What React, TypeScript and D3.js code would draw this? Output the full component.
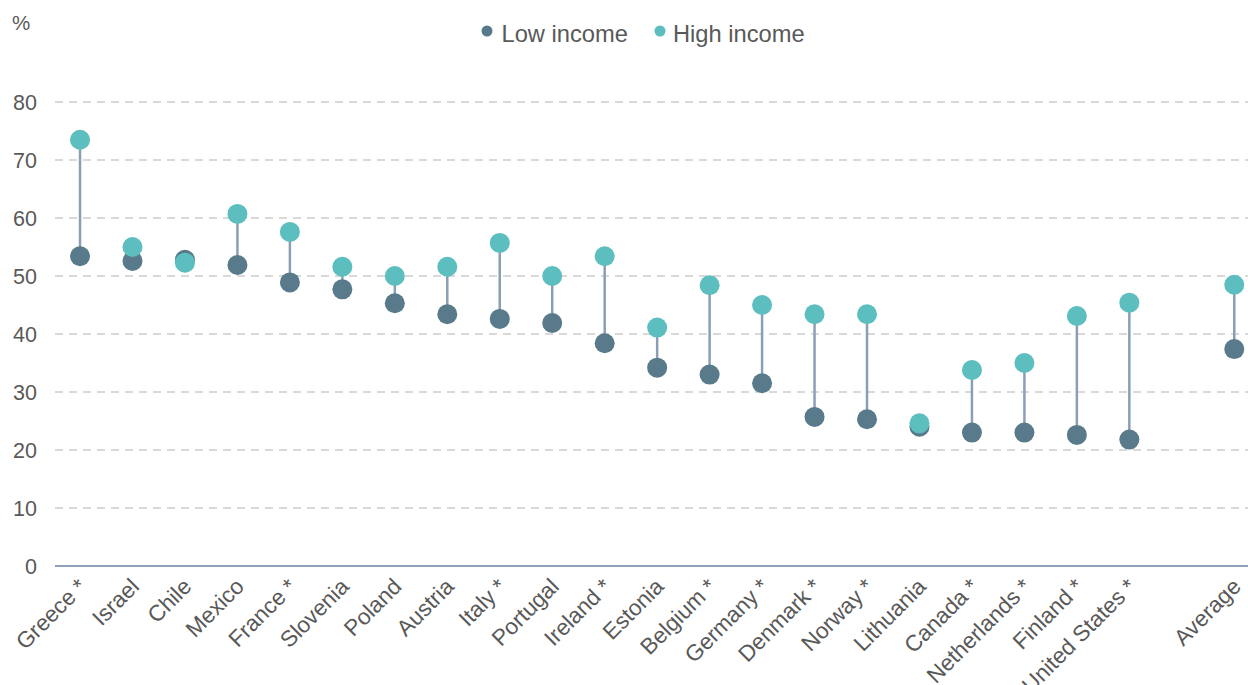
import React from "react";
import * as d3 from "d3";

const countries = [
  "Greece *", "Israel", "Chile", "Mexico", "France *", "Slovenia", "Poland", "Austria",
  "Italy *", "Portugal", "Ireland *", "Estonia", "Belgium *", "Germany *", "Denmark *",
  "Norway *", "Lithuania", "Canada *", "Netherlands *", "Finland *", "United States *",
];
const lowIncome = [
  53.4, 52.6, 52.8, 51.9, 48.9, 47.7, 45.3, 43.4, 42.6, 41.9, 38.4, 34.2, 33.0, 31.5, 25.7,
  25.3, 24.0, 23.0, 23.0, 22.6, 21.8,
];
const highIncome = [
  73.5, 55.0, 52.3, 60.7, 57.6, 51.6, 50.0, 51.6, 55.7, 50.0, 53.4, 41.1, 48.4, 45.0, 43.4,
  43.4, 24.6, 33.8, 35.0, 43.1, 45.4,
];
const averageLabel = "Average";
const averageLow = 37.4;
const averageHigh = 48.5;
const yTicks = [0, 10, 20, 30, 40, 50, 60, 70, 80];
const seriesNames = ["Low income", "High income"];

const W = 1248;
const H = 685;
const LOW_COLOR = "#587A8A";
const HIGH_COLOR = "#5CBEBE";
const STEM_COLOR = "#8A9FB4";
const TEXT_COLOR = "#595959";
const FONT = "'Liberation Sans', Arial, sans-serif";

export default function App() {
  const rows = countries.map((c, i) => ({ key: c, label: c, low: lowIncome[i], high: highIncome[i] }));
  const allRows = [...rows, { key: "__gap__", label: "", low: NaN, high: NaN }, { key: averageLabel, label: averageLabel, low: averageLow, high: averageHigh }];
  const dataRows = allRows.filter((r) => r.key !== "__gap__");

  const x = d3.scaleBand<string>().domain(allRows.map((r) => r.key)).range([53.8, 1260.5]).padding(0);
  const y = d3.scaleLinear().domain([0, 80]).range([566, 102]);
  const cx = (k: string) => (x(k) as number) + x.bandwidth() / 2;
  const gridX0 = 55;
  const gridX1 = W;

  return (
    <svg width={W} height={H} style={{ position: "absolute", left: 0, top: 0, background: "#fff" }} fontFamily={FONT}>
      <text x={12} y={30} fontSize={20.5} fill={TEXT_COLOR}>%</text>

      <g>
        <circle cx={487} cy={31} r={5.5} fill={LOW_COLOR} />
        <text x={501.5} y={41.5} fontSize={23.7} fill={TEXT_COLOR}>{seriesNames[0]}</text>
        <circle cx={660} cy={31} r={5.5} fill={HIGH_COLOR} />
        <text x={673} y={41.5} fontSize={23.7} fill={TEXT_COLOR}>{seriesNames[1]}</text>
      </g>

      {yTicks.map((t) => (
        <g key={t}>
          {t > 0 && (
            <line x1={gridX0} x2={gridX1} y1={y(t)} y2={y(t)} stroke="#D9D9D9" strokeWidth={2} strokeDasharray="8,6" />
          )}
          <text x={37} y={y(t)} dy="0.36em" textAnchor="end" fontSize={21.5} fill={TEXT_COLOR}>{t}</text>
        </g>
      ))}
      <line x1={gridX0} x2={gridX1} y1={y(0)} y2={y(0)} stroke="#8DA2B6" strokeWidth={2} />

      {dataRows.map((r) => (
        <line key={"s" + r.key} x1={cx(r.key)} x2={cx(r.key)} y1={y(r.low)} y2={y(r.high)} stroke={STEM_COLOR} strokeWidth={2.5} />
      ))}
      {dataRows.map((r) => (
        <circle key={"l" + r.key} cx={cx(r.key)} cy={y(r.low)} r={10} fill={LOW_COLOR} />
      ))}
      {dataRows.map((r) => (
        <circle key={"h" + r.key} cx={cx(r.key)} cy={y(r.high)} r={10} fill={HIGH_COLOR} />
      ))}

      {dataRows.map((r) => (
        <text
          key={"t" + r.key}
          transform={`translate(${cx(r.key) + 8},${588}) rotate(-45)`}
          textAnchor="end"
          fontSize={22.5}
          fill={TEXT_COLOR}
        >
          {r.label}
        </text>
      ))}
    </svg>
  );
}
